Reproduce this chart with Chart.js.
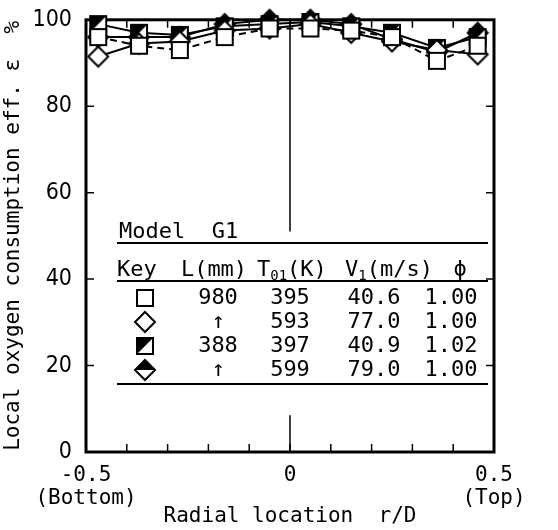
<!DOCTYPE html>
<html>
<head>
<meta charset="utf-8">
<script src="https://cdn.jsdelivr.net/npm/chart.js@4/dist/chart.umd.min.js"></script>
<style>
  html, body { margin: 0; padding: 0; background: #fff; }
  #chart { display: block; }
</style>
</head>
<body>
<canvas id="chart" width="558" height="530"></canvas>
<script>
// ---- data ----
const radialPos = [-0.47, -0.37, -0.27, -0.16, -0.05, 0.05, 0.15, 0.25, 0.36, 0.46];
const effSquareOpen  = [96, 94, 93, 96, 98, 98, 97.5, 96, 90.5, 94];   // L=980, T01=395
const effDiamondOpen = [91.5, 94.5, 95, 97.5, 98, 99, 97, 95, 93, 92];  // L=980, T01=593
const effSquareHalf  = [99, 97, 96.5, 98.5, 99, 99.5, 98.5, 97, 93.5, 96]; // L=388, T01=397
const effDiamondHalf = [96, 96, 96, 99, 100, 100, 99, 95.5, 92.5, 97];  // L=388, T01=599

const yTicks = [0, 20, 40, 60, 80, 100];
const xLabels = { "-0.5": ["-0.5", "(Bottom)"], "0": ["0"], "0.5": ["0.5", "(Top)"] };

const keyRows = [
    { marker: "squareOpen",  L: "980", T: "395", V: "40.6", phi: "1.00" },
    { marker: "diamondOpen", L: "\u2191", T: "593", V: "77.0", phi: "1.00" },
    { marker: "squareHalf",  L: "388", T: "397", V: "40.9", phi: "1.02" },
    { marker: "diamondHalf", L: "\u2191", T: "599", V: "79.0", phi: "1.00" }
];

const MONO = '"DejaVu Sans Mono", "Liberation Mono", monospace';
const NARROW = '"Liberation Sans Narrow", "DejaVu Sans Condensed", "Liberation Sans", sans-serif';

// ---- marker images ----
function makeMarker(kind) {
    let c = document.createElement("canvas");
    c.width = 24; c.height = 24;
    let g = c.getContext("2d");
    g.lineWidth = 2;
    g.strokeStyle = "#000";
    g.fillStyle = "#fff";
    let m = 12;
    if (kind === "squareOpen" || kind === "squareHalf") {
        g.fillRect(m - 8, m - 8, 16, 16);
        if (kind === "squareHalf") {
            g.fillStyle = "#000";
            g.beginPath();
            g.moveTo(m - 8, m - 8); g.lineTo(m + 8, m - 8); g.lineTo(m - 8, m + 8);
            g.closePath(); g.fill();
        }
        g.strokeRect(m - 8, m - 8, 16, 16);
    } else {
        let r = 10;
        g.beginPath();
        g.moveTo(m, m - r); g.lineTo(m + r, m); g.lineTo(m, m + r); g.lineTo(m - r, m);
        g.closePath(); g.fill();
        if (kind === "diamondHalf") {
            g.fillStyle = "#000";
            g.beginPath();
            g.moveTo(m, m - r); g.lineTo(m + r, m); g.lineTo(m - r, m);
            g.closePath(); g.fill();
        }
        g.beginPath();
        g.moveTo(m, m - r); g.lineTo(m + r, m); g.lineTo(m, m + r); g.lineTo(m - r, m);
        g.closePath(); g.stroke();
    }
    return c;
}

const markers = {
    squareOpen: makeMarker("squareOpen"),
    diamondOpen: makeMarker("diamondOpen"),
    squareHalf: makeMarker("squareHalf"),
    diamondHalf: makeMarker("diamondHalf")
};

function toPoints(values) {
    return radialPos.map((r, i) => ({ x: r, y: values[i] }));
}

function series(values, marker, dash) {
    return {
        data: toPoints(values),
        showLine: true,
        borderColor: "#000",
        borderWidth: 2,
        borderDash: dash,
        pointStyle: markers[marker],
        clip: false
    };
}

// ---- frame, inward ticks, centre line, key table ----
const framePlugin = {
    id: "frame",
    beforeDatasetsDraw(chart) {
        let ctx = chart.ctx, ca = chart.chartArea;
        let xs = chart.scales.x, ys = chart.scales.y;
        ctx.save();
        ctx.strokeStyle = "#000";

        // centre line (interrupted by the key table)
        ctx.lineWidth = 1.5;
        let x0 = xs.getPixelForValue(0);
        ctx.beginPath();
        ctx.moveTo(x0, ys.getPixelForValue(0)); ctx.lineTo(x0, ys.getPixelForValue(8.5));
        ctx.moveTo(x0, ys.getPixelForValue(51)); ctx.lineTo(x0, ys.getPixelForValue(100));
        ctx.stroke();

        // inward ticks
        ctx.lineWidth = 1.5;
        ctx.beginPath();
        for (let i = -4; i <= 4; i++) {
            let px = xs.getPixelForValue(i / 10);
            ctx.moveTo(px, ca.bottom); ctx.lineTo(px, ca.bottom - 8);
            ctx.moveTo(px, ca.top); ctx.lineTo(px, ca.top + 8);
        }
        yTicks.slice(1, -1).forEach(v => {
            let py = ys.getPixelForValue(v);
            ctx.moveTo(ca.left, py); ctx.lineTo(ca.left + 8, py);
            ctx.moveTo(ca.right, py); ctx.lineTo(ca.right - 8, py);
        });
        ctx.stroke();

        // frame
        ctx.lineWidth = 3;
        ctx.strokeRect(ca.left, ca.top, ca.right - ca.left, ca.bottom - ca.top);
        ctx.restore();
    },
    afterDraw(chart) {
        let ctx = chart.ctx;
        let big = "22px " + MONO, small = "14px " + MONO;
        ctx.save();
        ctx.fillStyle = "#000";
        ctx.strokeStyle = "#000";
        ctx.textBaseline = "middle";
        ctx.font = big;

        // title row
        ctx.textAlign = "left";
        ctx.fillText("Model  G1", 119, 232);

        // header
        ctx.fillText("Key", 117, 270);
        ctx.textAlign = "center";
        ctx.fillText("L(mm)", 214, 270);
        ctx.textAlign = "left";
        let x = 257;
        ctx.fillText("T", x, 270); x += ctx.measureText("T").width;
        ctx.font = small;
        ctx.fillText("01", x, 276); x += ctx.measureText("01").width;
        ctx.font = big;
        ctx.fillText("(K)", x, 270);
        x = 345;
        ctx.fillText("V", x, 270); x += ctx.measureText("V").width;
        ctx.font = small;
        ctx.fillText("1", x, 276); x += ctx.measureText("1").width;
        ctx.font = big;
        ctx.fillText("(m/s)", x, 270);
        ctx.textAlign = "center";
        ctx.fillText("\u03d5", 460, 270);

        // rows
        keyRows.forEach((row, i) => {
            let y = 298 + i * 24;
            let img = markers[row.marker];
            ctx.drawImage(img, 145 - img.width / 2, y - img.height / 2);
            ctx.fillText(row.L, 218, y);
            ctx.fillText(row.T, 290, y);
            ctx.fillText(row.V, 374, y);
            ctx.fillText(row.phi, 451, y);
        });

        // rules
        ctx.lineWidth = 2;
        ctx.beginPath();
        [243, 281, 384].forEach(y => { ctx.moveTo(117, y); ctx.lineTo(488, y); });
        ctx.stroke();
        ctx.restore();
    }
};

new Chart(document.getElementById("chart"), {
    type: "scatter",
    data: {
        datasets: [
            series(effSquareOpen, "squareOpen", [7, 5]),
            series(effDiamondOpen, "diamondOpen", []),
            series(effSquareHalf, "squareHalf", []),
            series(effDiamondHalf, "diamondHalf", [])
        ]
    },
    options: {
        responsive: false,
        animation: false,
        layout: { padding: { top: 16, right: 64, left: 0, bottom: 0 } },
        plugins: { legend: { display: false }, tooltip: { enabled: false } },
        scales: {
            x: {
                type: "linear",
                min: -0.5,
                max: 0.5,
                grid: { display: false },
                border: { display: false },
                ticks: {
                    stepSize: 0.1,
                    autoSkip: false,
                    maxRotation: 0,
                    padding: 5,
                    color: "#000",
                    font: { family: MONO, size: 21, lineHeight: 1.05 },
                    callback: function (v) {
                        let key = (Math.round(v * 10) / 10).toString();
                        return xLabels[key] || "";
                    }
                },
                title: {
                    display: true,
                    text: "Radial location  r/D",
                    color: "#000",
                    font: { family: MONO, size: 21 },
                    padding: { top: 0, bottom: 1 }
                },
                afterFit(scale) { scale.height = 78; }
            },
            y: {
                min: 0,
                max: 100,
                grid: { display: false },
                border: { display: false },
                afterBuildTicks(scale) { scale.ticks = yTicks.map(v => ({ value: v })); },
                ticks: {
                    padding: 6,
                    color: "#000",
                    font: { family: NARROW, size: 23 }
                },
                title: {
                    display: true,
                    text: "Local oxygen consumption eff. \u03b5  %",
                    color: "#000",
                    font: { family: MONO, size: 21 },
                    padding: { top: 1, bottom: 0 }
                },
                afterFit(scale) { scale.width = 86; }
            }
        }
    },
    plugins: [framePlugin]
});
</script>
</body>
</html>
